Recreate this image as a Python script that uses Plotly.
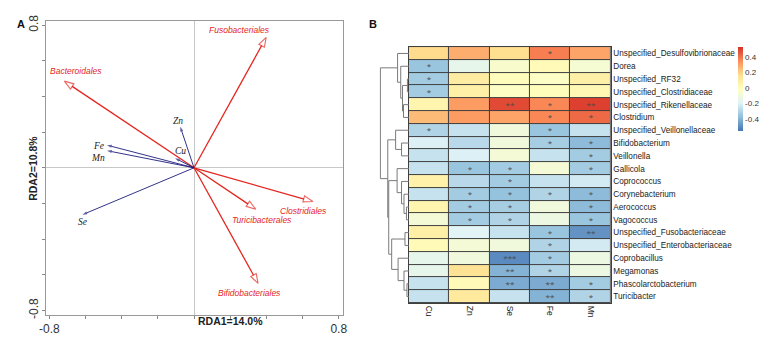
import plotly.graph_objects as go

# ---------------- Panel A data (RDA biplot) ----------------
env_names = ["Zn", "Cu", "Fe", "Mn", "Se"]
env_x = [-0.076, -0.105, -0.481, -0.481, -0.617]
env_y = [0.230, 0.054, 0.127, 0.096, -0.263]

taxa_names = ["Fusobacteriales", "Bacteroidales", "Clostridiales", "Turicibacterales", "Bifidobacteriales"]
taxa_x = [0.399, -0.717, 0.657, 0.341, 0.354]
taxa_y = [0.731, 0.486, -0.189, -0.232, -0.648]

axis_ticks = [-0.8, -0.6, -0.4, -0.2, 0.0, 0.2, 0.4, 0.6, 0.8]
axis_ticktext = ["-0.8", "", "", "", "", "", "", "", "0.8"]

# ---------------- Panel B data (correlation heatmap) ----------------
heat_cols = ["Cu", "Zn", "Se", "Fe", "Mn"]
heat_rows = [
    "Unspecified_Desulfovibrionaceae", "Dorea", "Unspecified_RF32", "Unspecified_Clostridiaceae",
    "Unspecified_Rikenellaceae", "Clostridium", "Unspecified_Veillonellaceae", "Bifidobacterium",
    "Veillonella", "Gallicola", "Coprococcus", "Corynebacterium", "Aerococcus", "Vagococcus",
    "Unspecified_Fusobacteriaceae", "Unspecified_Enterobacteriaceae", "Coprobacillus",
    "Megamonas", "Phascolarctobacterium", "Turicibacter",
]
heat_values = [
    [0.18, 0.28, 0.17, 0.38, 0.30],
    [-0.35, -0.15, -0.05, 0.02, -0.07],
    [-0.33, 0.10, 0.00, -0.03, 0.08],
    [-0.33, 0.08, -0.03, 0.00, 0.03],
    [0.05, 0.32, 0.48, 0.36, 0.50],
    [0.25, 0.32, 0.30, 0.36, 0.42],
    [-0.30, -0.25, -0.10, -0.35, -0.25],
    [-0.20, -0.28, -0.10, -0.32, -0.38],
    [-0.25, -0.20, -0.08, -0.25, -0.33],
    [-0.25, -0.35, -0.33, -0.08, -0.33],
    [0.07, -0.28, -0.33, -0.25, -0.22],
    [-0.25, -0.33, -0.36, -0.30, -0.38],
    [0.05, -0.33, -0.32, -0.10, -0.38],
    [-0.08, -0.33, -0.30, -0.12, -0.35],
    [0.08, -0.18, -0.25, -0.35, -0.48],
    [0.02, -0.08, -0.10, -0.30, -0.22],
    [-0.15, -0.10, -0.50, -0.33, -0.12],
    [-0.15, 0.15, -0.40, -0.30, -0.12],
    [-0.25, 0.02, -0.42, -0.42, -0.33],
    [-0.25, 0.12, -0.25, -0.40, -0.30],
]
heat_stars = [
    ["", "", "", "*", ""],
    ["*", "", "", "", ""],
    ["*", "", "", "", ""],
    ["*", "", "", "", ""],
    ["", "", "**", "*", "**"],
    ["", "", "", "*", "*"],
    ["*", "", "", "*", ""],
    ["", "", "", "*", "*"],
    ["", "", "", "", "*"],
    ["", "*", "*", "", "*"],
    ["", "", "*", "", ""],
    ["", "*", "*", "*", "*"],
    ["", "*", "*", "", "*"],
    ["", "*", "*", "", "*"],
    ["", "", "", "*", "**"],
    ["", "", "", "*", ""],
    ["", "", "***", "*", ""],
    ["", "", "**", "*", ""],
    ["", "", "**", "**", "*"],
    ["", "", "", "**", "*"],
]
colorbar_ticks = [0.4, 0.2, 0.0, -0.2, -0.4]

# Row dendrogram: (left child, right child, merge height); leaves are row indices,
# internal nodes are numbered from len(heat_rows) upward in creation order.
dendro_links = [
    (2, 3, 1.5), (4, 5, 5.5), (20, 21, 6.5), (1, 22, 8.3), (0, 23, 11.5),
    (7, 8, 7.5), (6, 25, 13.5), (12, 13, 2.5), (11, 27, 5.0), (10, 28, 7.5),
    (9, 29, 12.0), (14, 15, 4.0), (18, 19, 2.0), (17, 32, 5.0), (16, 33, 11.0),
    (31, 34, 17.5), (30, 35, 20.5), (26, 36, 21.5), (24, 37, 29.0),
]

# ---------------- figure ----------------
W, H = 767, 340
RED = "#e3261f"
NAVY = "#1c1c7c"
BORDER = "#3f3f3f"

fig = go.Figure()

for name, x, y in zip(taxa_names, taxa_x, taxa_y):
    fig.add_trace(go.Scatter(
        x=[0, x], y=[0, y], mode="lines+markers", xaxis="x", yaxis="y",
        line=dict(color=RED, width=1.3),
        marker=dict(symbol="arrow", angleref="previous", size=[0, 10],
                    color="white", line=dict(color=RED, width=1.1)),
        hoverinfo="skip", showlegend=False,
    ))
for name, x, y in zip(env_names, env_x, env_y):
    fig.add_trace(go.Scatter(
        x=[0, x], y=[0, y], mode="lines+markers", xaxis="x", yaxis="y",
        line=dict(color=NAVY, width=0.9),
        marker=dict(symbol="arrow", angleref="previous", size=[0, 5],
                    color=NAVY, line=dict(color=NAVY, width=0)),
        hoverinfo="skip", showlegend=False,
    ))

annotations = []
taxa_shift = {
    "Fusobacteriales": (-27, 7), "Bacteroidales": (12, 10), "Clostridiales": (-9, -9),
    "Turicibacterales": (6, -11), "Bifidobacteriales": (-9, -10),
}
env_shift = {"Zn": (-2, 6), "Cu": (5, 7), "Fe": (-9, -1), "Mn": (-9, -7), "Se": (0, -7)}
for name, x, y in zip(taxa_names, taxa_x, taxa_y):
    dx, dy = taxa_shift[name]
    annotations.append(dict(x=x, y=y, xref="x", yref="y", text=f"<i>{name}</i>", showarrow=False,
                            xshift=dx, yshift=dy, font=dict(family="Liberation Sans, Arial", size=8.5, color=RED)))
for name, x, y in zip(env_names, env_x, env_y):
    dx, dy = env_shift[name]
    annotations.append(dict(x=x, y=y, xref="x", yref="y", text=f"<i>{name}</i>", showarrow=False,
                            xshift=dx, yshift=dy, font=dict(family="Liberation Serif, Times New Roman", size=9.5, color="#222")))

annotations += [
    dict(x=192 / W, y=1 - 333 / H, xref="paper", yref="paper", text="<b>RDA1=14.0%</b>", showarrow=False,
         font=dict(family="Liberation Sans, Arial", size=10.5, color="#222")),
    dict(x=18 / W, y=1 - 167 / H, xref="paper", yref="paper", text="<b>RDA2=10.8%</b>", showarrow=False,
         textangle=-90, font=dict(family="Liberation Sans, Arial", size=10.5, color="#222")),
    dict(x=8 / W, y=1 - 10 / H, xref="paper", yref="paper", text="<b>A</b>", showarrow=False,
         font=dict(family="Liberation Sans, Arial", size=11, color="#111")),
    dict(x=372 / W, y=1 - 10 / H, xref="paper", yref="paper", text="<b>B</b>", showarrow=False,
         font=dict(family="Liberation Sans, Arial", size=11, color="#111")),
]

n_rows = len(heat_rows)
fig.add_trace(go.Heatmap(
    z=heat_values, x=heat_cols, y=list(range(n_rows)), text=heat_stars, texttemplate="%{text}",
    textfont=dict(size=8, color="#4a4a4a"),
    xaxis="x2", yaxis="y2", xgap=1, ygap=1,
    zmin=-0.55, zmax=0.53,
    colorscale=[[0, "#4575B4"], [1 / 6, "#91BFDB"], [2 / 6, "#E0F3F8"], [3 / 6, "#FFFFBF"],
                [4 / 6, "#FEE090"], [5 / 6, "#FC8D59"], [1, "#D73027"]],
    colorbar=dict(thickness=5, lenmode="pixels", len=84, x=743 / W, xanchor="left",
                  y=1 - 42 / H, yanchor="top", xpad=0, ypad=0, outlinewidth=0,
                  tickvals=colorbar_ticks, ticktext=[f"{v:g}" for v in colorbar_ticks],
                  ticks="", tickfont=dict(family="Liberation Sans, Arial", size=8, color="#333")),
    hoverinfo="skip",
))

node_y = {i: float(i) for i in range(n_rows)}
node_h = {i: 0.0 for i in range(n_rows)}
dx_pts, dy_pts = [], []
for k, (a, b, h) in enumerate(dendro_links):
    nid = n_rows + k
    ya, yb = node_y[a], node_y[b]
    dx_pts += [node_h[a], h, h, node_h[b], None]
    dy_pts += [ya, ya, yb, yb, None]
    node_y[nid] = (ya + yb) / 2
    node_h[nid] = h
fig.add_trace(go.Scatter(x=dx_pts, y=dy_pts, mode="lines", xaxis="x3", yaxis="y2",
                         line=dict(color="#7a7a7a", width=1), hoverinfo="skip", showlegend=False))

ax_font = dict(family="Liberation Sans, Arial", size=12, color="#333")
fig.update_layout(
    width=W, height=H, margin=dict(l=0, r=0, t=0, b=0),
    paper_bgcolor="white", plot_bgcolor="white",
    showlegend=False, annotations=annotations,
    xaxis=dict(domain=[40 / W, 341 / W], range=[-0.8163, 0.8218], tickvals=axis_ticks, ticktext=axis_ticktext,
               ticks="outside", ticklen=3, tickcolor="#888", tickfont=ax_font,
               showgrid=False, zeroline=True, zerolinecolor="#c8c8c8", zerolinewidth=1,
               showline=True, mirror=True, linecolor="#999", linewidth=1, anchor="y"),
    yaxis=dict(domain=[1 - 318 / H, 1 - 15 / H], range=[-0.8234, 0.8256], tickvals=axis_ticks, ticktext=axis_ticktext,
               ticks="outside", ticklen=3, tickcolor="#888", tickfont=ax_font, tickangle=-90,
               showgrid=False, zeroline=True, zerolinecolor="#c8c8c8", zerolinewidth=1,
               showline=True, mirror=True, linecolor="#999", linewidth=1, anchor="x"),
    xaxis2=dict(domain=[408.3 / W, 613.3 / W], anchor="y2", tickangle=90, ticks="", showgrid=False,
                zeroline=False, showline=True, mirror=True, linecolor=BORDER, linewidth=1,
                tickfont=dict(family="Liberation Sans, Arial", size=8.5, color="#222")),
    yaxis2=dict(domain=[1 - 306 / H, 1 - 42.3 / H], anchor="x2", side="right", range=[n_rows - 0.5, -0.5],
                tickvals=list(range(n_rows)), ticktext=heat_rows, ticks="", showgrid=False, zeroline=False,
                showline=True, mirror=True, linecolor=BORDER, linewidth=1,
                tickfont=dict(family="Liberation Sans, Arial", size=8.2, color="#222")),
    xaxis3=dict(domain=[378.3 / W, 408.3 / W], anchor="y2", range=[30, 0], visible=False),
)

# dark fill behind heatmap cells -> visible as cell borders through the gaps
fig.add_shape(type="rect", xref="x2 domain", yref="y2 domain", x0=0, x1=1, y0=0, y1=1,
              fillcolor=BORDER, line=dict(width=0), layer="below")

fig.write_html("out.html", config={"displayModeBar": False},
               post_script="document.body.style.margin='0';")
